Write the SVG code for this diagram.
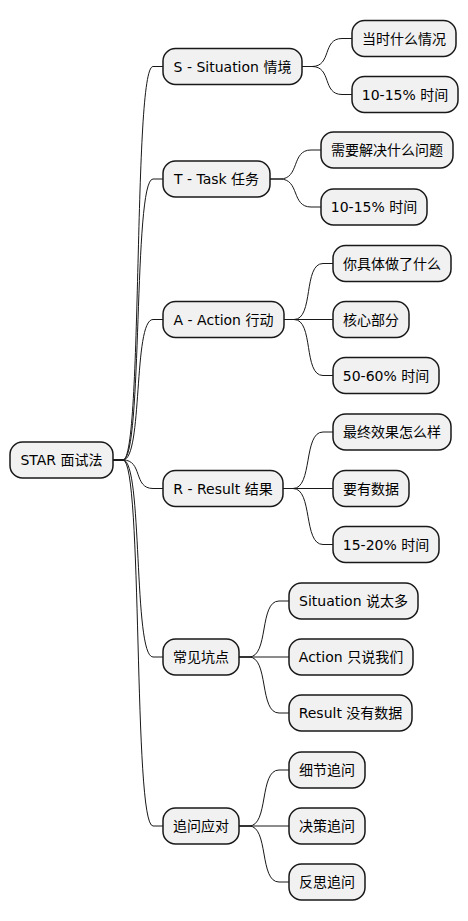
<svg xmlns="http://www.w3.org/2000/svg" width="468" height="921" viewBox="0 0 468 921">
<style>
rect{fill:#F1F1F1;stroke:#181818;stroke-width:1.5}
text{font-family:"DejaVu Sans","Noto Sans CJK SC",sans-serif;font-size:14px;fill:#000;text-anchor:middle}
#links path{fill:none;stroke:#181818;stroke-width:1}
</style>
<rect x="0" y="0" width="468" height="921" style="fill:#fff;stroke:none"/>
<g id="links">
<path d="M113,460 L123,460 C143,460 133,66.5 153,66.5 L163,66.5"/>
<path d="M113,460 L123,460 C143,460 133,179 153,179 L163,179"/>
<path d="M113,460 L123,460 C143,460 133,319.5 153,319.5 L163,319.5"/>
<path d="M113,460 L123,460 C143,460 133,488.5 153,488.5 L163,488.5"/>
<path d="M113,460 L123,460 C143,460 133,657 153,657 L163,657"/>
<path d="M113,460 L123,460 C143,460 133,826 153,826 L163,826"/>
<path d="M302,66.5 L312,66.5 C332,66.5 322,38.5 342,38.5 L352,38.5"/>
<path d="M302,66.5 L312,66.5 C332,66.5 322,94.5 342,94.5 L352,94.5"/>
<path d="M270,179 L280,179 C300,179 291,150 311,150 L321,150"/>
<path d="M270,179 L280,179 C300,179 291,207 311,207 L321,207"/>
<path d="M284,319.5 L294,319.5 C314,319.5 303,263.5 323,263.5 L333,263.5"/>
<path d="M284,319.5 L333,319.5"/>
<path d="M284,319.5 L294,319.5 C314,319.5 303,375.5 323,375.5 L333,375.5"/>
<path d="M283,488.5 L293,488.5 C313,488.5 303,432 323,432 L333,432"/>
<path d="M283,488.5 L333,488.5"/>
<path d="M283,488.5 L293,488.5 C313,488.5 303,544.5 323,544.5 L333,544.5"/>
<path d="M239,657 L249,657 C269,657 259,601 279,601 L289,601"/>
<path d="M239,657 L289,657"/>
<path d="M239,657 L249,657 C269,657 259,713 279,713 L289,713"/>
<path d="M239,826 L249,826 C269,826 259,770 279,770 L289,770"/>
<path d="M239,826 L289,826"/>
<path d="M239,826 L249,826 C269,826 259,882 279,882 L289,882"/>
</g>
<g id="root"><rect x="10" y="442" width="103" height="36" rx="12.5"/><text x="61.5" y="465">STAR 面试法</text></g>
<g id="s"><rect x="163" y="48.5" width="139" height="36" rx="12.5"/><text x="232.5" y="71.5">S - Situation 情境</text></g>
<g id="s1"><rect x="352" y="20.5" width="104" height="36" rx="12.5"/><text x="404" y="43.5">当时什么情况</text></g>
<g id="s2"><rect x="352" y="76.5" width="106" height="36" rx="12.5"/><text x="405" y="99.5">10-15% 时间</text></g>
<g id="t"><rect x="163" y="161" width="107" height="36" rx="12.5"/><text x="216.5" y="184">T - Task 任务</text></g>
<g id="t1"><rect x="321" y="132" width="132" height="36" rx="12.5"/><text x="387" y="155">需要解决什么问题</text></g>
<g id="t2"><rect x="321" y="189" width="106" height="36" rx="12.5"/><text x="374" y="212">10-15% 时间</text></g>
<g id="a"><rect x="163" y="301.5" width="121" height="36" rx="12.5"/><text x="223.5" y="324.5">A - Action 行动</text></g>
<g id="a1"><rect x="333" y="245.5" width="118" height="36" rx="12.5"/><text x="392" y="268.5">你具体做了什么</text></g>
<g id="a2"><rect x="333" y="301.5" width="76" height="36" rx="12.5"/><text x="371" y="324.5">核心部分</text></g>
<g id="a3"><rect x="333" y="357.5" width="106" height="36" rx="12.5"/><text x="386" y="380.5">50-60% 时间</text></g>
<g id="r"><rect x="163" y="470.5" width="120" height="36" rx="12.5"/><text x="223" y="493.5">R - Result 结果</text></g>
<g id="r1"><rect x="333" y="414" width="118" height="36" rx="12.5"/><text x="392" y="437">最终效果怎么样</text></g>
<g id="r2"><rect x="333" y="470.5" width="76" height="36" rx="12.5"/><text x="371" y="493.5">要有数据</text></g>
<g id="r3"><rect x="333" y="526.5" width="106" height="36" rx="12.5"/><text x="386" y="549.5">15-20% 时间</text></g>
<g id="p"><rect x="163" y="639" width="76" height="36" rx="12.5"/><text x="201" y="662">常见坑点</text></g>
<g id="p1"><rect x="289" y="583" width="129" height="36" rx="12.5"/><text x="353.5" y="606">Situation 说太多</text></g>
<g id="p2"><rect x="289" y="639" width="124" height="36" rx="12.5"/><text x="351" y="662">Action 只说我们</text></g>
<g id="p3"><rect x="289" y="695" width="123" height="36" rx="12.5"/><text x="350.5" y="718">Result 没有数据</text></g>
<g id="f"><rect x="163" y="808" width="76" height="36" rx="12.5"/><text x="201" y="831">追问应对</text></g>
<g id="f1"><rect x="289" y="752" width="76" height="36" rx="12.5"/><text x="327" y="775">细节追问</text></g>
<g id="f2"><rect x="289" y="808" width="76" height="36" rx="12.5"/><text x="327" y="831">决策追问</text></g>
<g id="f3"><rect x="289" y="864" width="76" height="36" rx="12.5"/><text x="327" y="887">反思追问</text></g>
</svg>
